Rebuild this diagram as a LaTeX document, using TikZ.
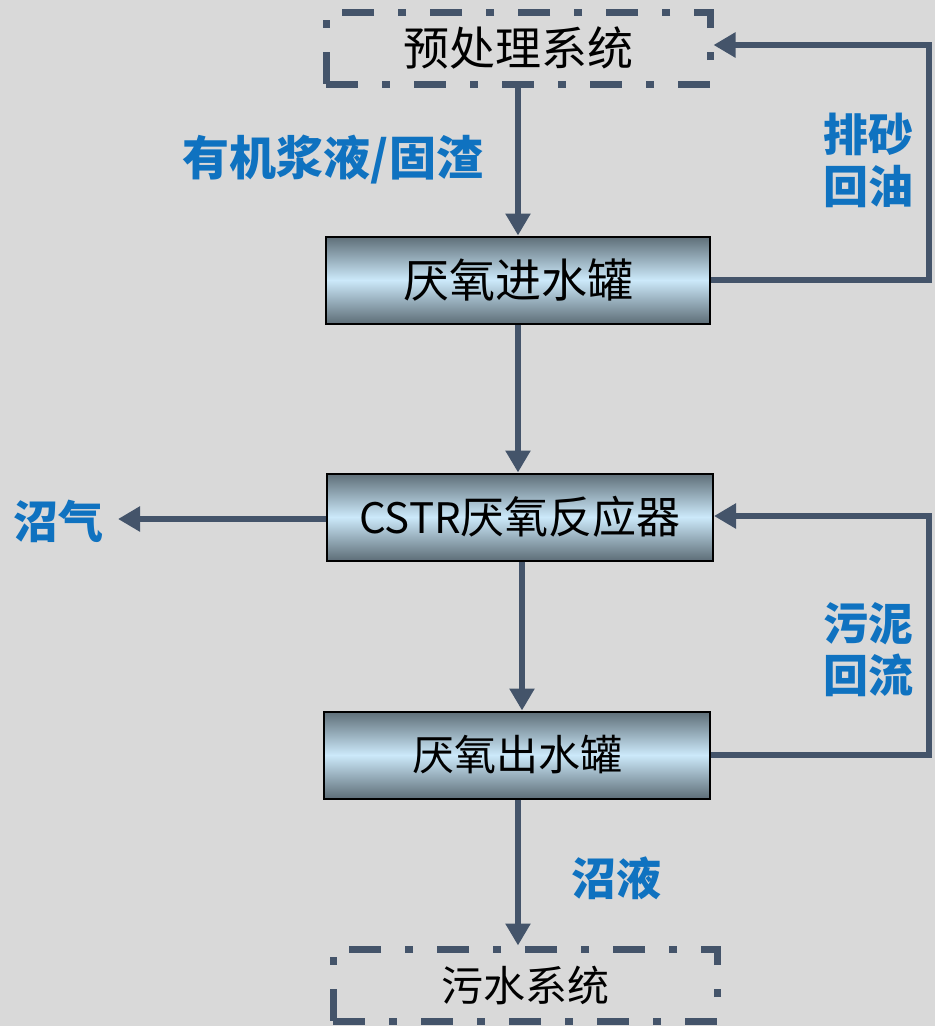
\documentclass[tikz,border=0pt]{standalone}
\usepackage{fontspec}
\setmainfont{Liberation Sans}
\newfontfamily\cjk{Noto Sans CJK SC}
\usetikzlibrary{arrows.meta}
\definecolor{linec}{HTML}{44546A}
\definecolor{lblue}{HTML}{0F72C0}
\definecolor{bgc}{HTML}{D9D9D9}
\definecolor{gdark}{HTML}{5E6E78}
\definecolor{glight}{HTML}{CCE9FA}
\tikzset{
  x=1pt, y=-1pt,
  dashbox/.style={draw=linec, line width=7pt, dash pattern=on 32pt off 24pt on 8pt off 24pt,
    minimum width=384pt, minimum height=72pt, inner sep=0pt, font=\cjk\fontsize{46}{50}\selectfont},
  tankbox/.style={draw=black, line width=2pt, top color=gdark, bottom color=gdark, middle color=glight,
    minimum width=384pt, minimum height=87pt, inner sep=0pt, font=\cjk\fontsize{46}{50}\selectfont},
  flow/.style={draw=linec, line width=6pt, -{Triangle[length=22pt,width=24pt]}},
  lbl/.style={text=lblue, font=\cjk\bfseries\fontsize{45}{52}\selectfont, align=center, inner sep=0pt}
}
\begin{document}
\begin{tikzpicture}
\fill[bgc] (0,0) rectangle (935,1026);
\useasboundingbox (0,0) rectangle (935,1026);
% nodes
\node[dashbox] (pre) at (518,48) {\raisebox{-5pt}{预处理系统}};
\node[tankbox] (in) at (518,280) {厌氧进水罐};
\node[tankbox, minimum width=386pt, font=\cjk\fontsize{44}{48}\selectfont] (cstr) at (520,517) {{\fontsize{42}{46}\selectfont CSTR}厌氧反应器};
\node[tankbox, minimum width=386pt, font=\cjk\fontsize{42}{46}\selectfont] (out) at (517,755) {厌氧出水罐};
\node[dashbox, font=\cjk\fontsize{42}{46}\selectfont] (sew) at (525,985) {污水系统};
% labels
\node[lbl, font=\cjk\bfseries\fontsize{47}{52}\selectfont] (l1) at (333,160) {有机浆液/固渣};
\node[lbl] (l2) at (868,160) {排砂\\回油};
\node[lbl] (l3) at (58,521) {沼气};
\node[lbl] (l4) at (868,650) {污泥\\回流};
\node[lbl] (l5) at (616,878) {沼液};
% coordinates
\coordinate (gas) at (118,519);
\coordinate (r1a) at (929,280);
\coordinate (r1b) at (929,45);
\coordinate (r2a) at (929,755);
\coordinate (r2b) at (929,516);
% connectors
\draw[flow] (pre.south -| in.north) -- (in.north);
\draw[flow] (in.south) -- (cstr.north -| in.south);
\draw[flow] (cstr.south -| 522,0) -- (out.north -| 522,0);
\draw[flow] (out.south -| 518,0) -- (sew.north -| 518,0);
\draw[flow] (cstr.west |- gas) -- (gas);
\draw[flow] (in.east) -- (r1a) -- (r1b) -- (r1b -| pre.east);
\draw[flow] (out.east) -- (r2a) -- (r2b) -- (r2b -| cstr.east);
\end{tikzpicture}
\end{document}
